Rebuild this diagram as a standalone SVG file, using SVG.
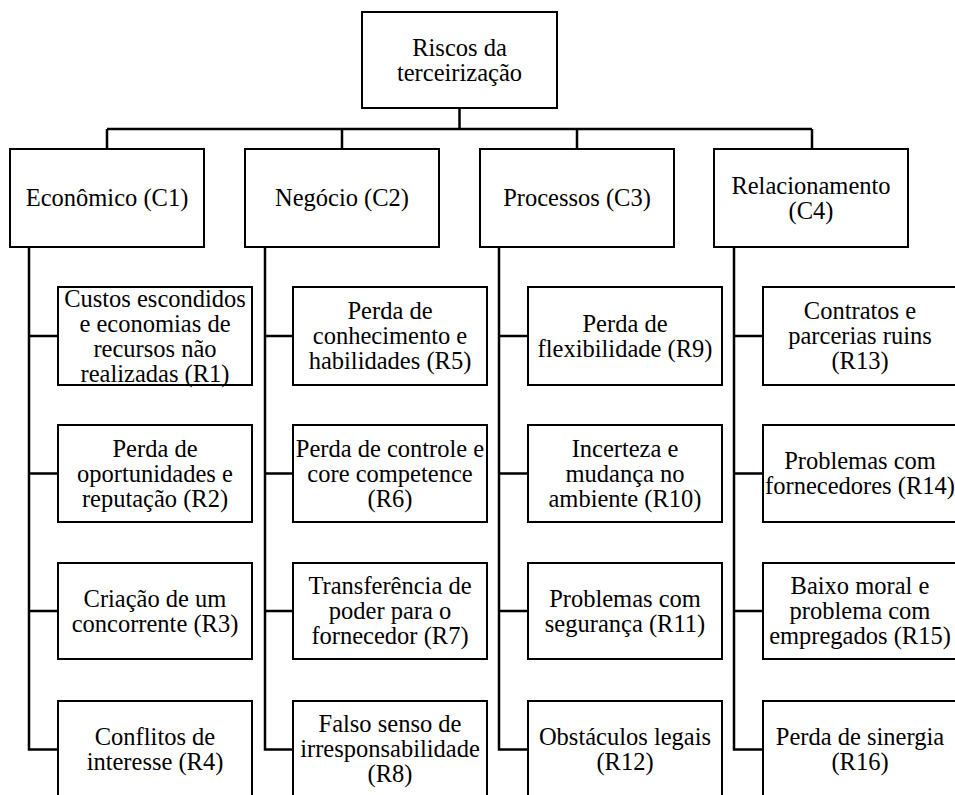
<svg xmlns="http://www.w3.org/2000/svg" width="955" height="795" viewBox="0 0 955 795">
<style>
rect.box{fill:#fff;stroke:#000;stroke-width:2}
text{font-family:'Times New Roman',Times,Tinos,'Liberation Serif','DejaVu Serif',serif;font-size:24.5px;fill:#000;text-anchor:middle}
#connectors path{fill:none;stroke:#000;stroke-width:2.5}
</style>
<rect width="955" height="795" fill="#fff"/>
<g id="connectors">
<path d="M459.5 108V129M107 129H812M107 129V149M342 129V149M577 129V149M812 129V149"/>
<path d="M29 247V749.5H58M29 336H58M29 473.5H58M29 611H58"/>
<path d="M265 247V749.5H293M265 336H293M265 473.5H293M265 611H293"/>
<path d="M499 247V749.5H528M499 336H528M499 473.5H528M499 611H528"/>
<path d="M734 247V749.5H763M734 336H763M734 473.5H763M734 611H763"/>
</g>
<g id="root"><rect class="box" x="362" y="12" width="195" height="96"/><text x="459.5" y="55.5">Riscos da</text><text x="459.5" y="80.5">terceirização</text></g>
<g id="C1"><rect class="box" x="10" y="149" width="194" height="98"/><text x="107" y="206">Econômico (C1)</text></g>
<g id="C2"><rect class="box" x="245" y="149" width="194" height="98"/><text x="342" y="206">Negócio (C2)</text></g>
<g id="C3"><rect class="box" x="480" y="149" width="194" height="98"/><text x="577" y="206">Processos (C3)</text></g>
<g id="C4"><rect class="box" x="714" y="149" width="194" height="98"/><text x="811" y="193.5">Relacionamento</text><text x="811" y="218.5">(C4)</text></g>

<g id="R1"><rect class="box" x="58" y="287" width="194" height="98"/><text x="155" y="306.5">Custos escondidos</text><text x="155" y="331.5">e economias de</text><text x="155" y="356.5">recursos não</text><text x="155" y="381.5">realizadas (R1)</text></g>
<g id="R2"><rect class="box" x="58" y="425" width="194" height="97"/><text x="155" y="456.5">Perda de</text><text x="155" y="481.5">oportunidades e</text><text x="155" y="506.5">reputação (R2)</text></g>
<g id="R3"><rect class="box" x="58" y="563" width="194" height="96"/><text x="155" y="606.5">Criação de um</text><text x="155" y="631.5">concorrente (R3)</text></g>
<g id="R4"><rect class="box" x="58" y="701" width="194" height="98"/><text x="155" y="744.5">Conflitos de</text><text x="155" y="769.5">interesse (R4)</text></g>

<g id="R5"><rect class="box" x="293" y="287" width="194" height="98"/><text x="390" y="319">Perda de</text><text x="390" y="344">conhecimento e</text><text x="390" y="369">habilidades (R5)</text></g>
<g id="R6"><rect class="box" x="293" y="425" width="194" height="97"/><text x="390" y="456.5">Perda de controle e</text><text x="390" y="481.5">core competence</text><text x="390" y="506.5">(R6)</text></g>
<g id="R7"><rect class="box" x="293" y="563" width="194" height="96"/><text x="390" y="594">Transferência de</text><text x="390" y="619">poder para o</text><text x="390" y="644">fornecedor (R7)</text></g>
<g id="R8"><rect class="box" x="293" y="701" width="194" height="98"/><text x="390" y="732">Falso senso de</text><text x="390" y="757">irresponsabilidade</text><text x="390" y="782">(R8)</text></g>

<g id="R9"><rect class="box" x="528" y="287" width="194" height="98"/><text x="625" y="331.5">Perda de</text><text x="625" y="356.5">flexibilidade (R9)</text></g>
<g id="R10"><rect class="box" x="528" y="425" width="194" height="97"/><text x="625" y="456.5">Incerteza e</text><text x="625" y="481.5">mudança no</text><text x="625" y="506.5">ambiente (R10)</text></g>
<g id="R11"><rect class="box" x="528" y="563" width="194" height="96"/><text x="625" y="606.5">Problemas com</text><text x="625" y="631.5">segurança (R11)</text></g>
<g id="R12"><rect class="box" x="528" y="701" width="194" height="98"/><text x="625" y="744.5">Obstáculos legais</text><text x="625" y="769.5">(R12)</text></g>

<g id="R13"><rect class="box" x="763" y="287" width="194" height="98"/><text x="860" y="319">Contratos e</text><text x="860" y="344">parcerias ruins</text><text x="860" y="369">(R13)</text></g>
<g id="R14"><rect class="box" x="763" y="425" width="194" height="97"/><text x="860" y="469">Problemas com</text><text x="860" y="494">fornecedores (R14)</text></g>
<g id="R15"><rect class="box" x="763" y="563" width="194" height="96"/><text x="860" y="594">Baixo moral e</text><text x="860" y="619">problema com</text><text x="860" y="644">empregados (R15)</text></g>
<g id="R16"><rect class="box" x="763" y="701" width="194" height="98"/><text x="860" y="744.5">Perda de sinergia</text><text x="860" y="769.5">(R16)</text></g>
</svg>
